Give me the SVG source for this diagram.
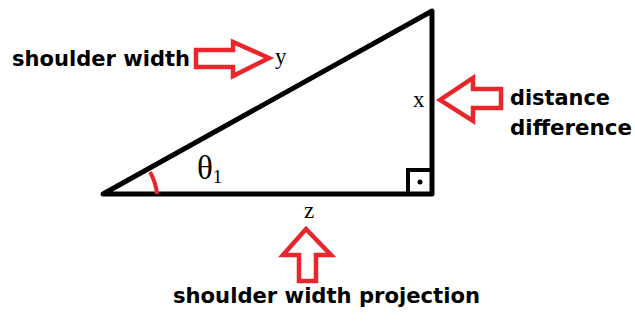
<svg xmlns="http://www.w3.org/2000/svg" width="635" height="321" viewBox="0 0 635 321">
<style>
.lbl{font-family:"DejaVu Sans",Verdana,sans-serif;font-weight:bold;font-size:21px;fill:#000}
.var{font-family:"Liberation Serif","Times New Roman",serif;font-size:23px;fill:#000}
.arr{fill:#fff;stroke:#e8262b;stroke-width:4.5;stroke-linejoin:miter}
.edge{fill:none;stroke:#000;stroke-width:5;stroke-linecap:round;stroke-linejoin:round}
</style>
<rect width="635" height="321" fill="#fff"/>
<g id="triangle">
<path class="edge" d="M103,194 L432,11 L432,194 Z"/>
<rect x="408" y="170" width="24" height="24" fill="none" stroke="#000" stroke-width="4"/>
<circle cx="420" cy="182" r="2.5" fill="#000"/>
<path d="M150,172 A55,55 0 0 1 157,194" fill="none" stroke="#e8262b" stroke-width="4"/>
</g>
<g id="theta">
<text class="var" x="197" y="179" style="font-size:33px">θ<tspan style="font-size:19px" dy="4">1</tspan></text>
</g>
<g id="label-y">
<text class="lbl" x="12" y="66" textLength="178" lengthAdjust="spacingAndGlyphs">shoulder width</text>
<text class="var" x="275" y="64">y</text>
</g>
<g id="label-x">
<text class="var" x="413" y="107">x</text>
<text class="lbl" x="510" y="105" textLength="100" lengthAdjust="spacingAndGlyphs">distance</text>
<text class="lbl" x="510" y="135" textLength="122" lengthAdjust="spacingAndGlyphs">difference</text>
</g>
<g id="label-z">
<text class="var" x="304" y="218">z</text>
<text class="lbl" x="173" y="303" textLength="307" lengthAdjust="spacingAndGlyphs">shoulder width projection</text>
</g>
<g id="connectors">
<path class="arr" d="M196,50 L233,50 L233,42 L269,58 L233,76 L233,67 L196,67 Z"/>
<path class="arr" d="M501,89 L473,89 L473,78 L440,100 L473,121 L473,108 L501,108 Z"/>
<path class="arr" d="M299,281 L299,255 L283,255 L306,229 L331,255 L316,255 L316,281 Z"/>
</g>
</svg>
